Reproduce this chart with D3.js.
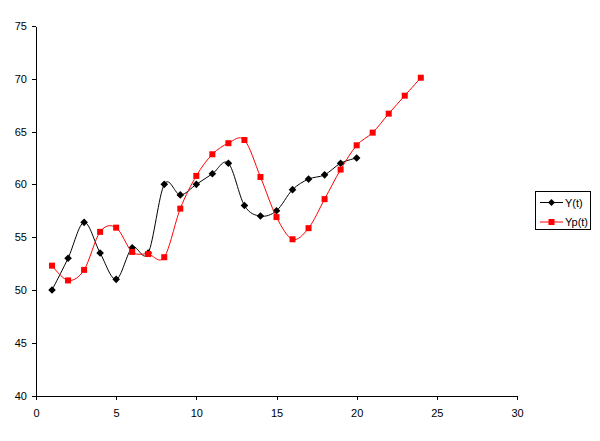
<!DOCTYPE html>
<html lang="en">
  <head>
    <meta charset="UTF-8" />
    <style>
      body { margin: 0; background: #fff; }
      svg { font: 11px "Liberation Sans", Arial, sans-serif; }
      .axis path, .axis line { fill: none; stroke: #000; shape-rendering: crispEdges; }
    </style>
    <script src="https://d3js.org/d3.v7.min.js"></script>
  </head>
  <body>
    <script>
      // series values
      var tY = [1, 2, 3, 4, 5, 6, 7, 8, 9, 10, 11, 12, 13, 14, 15, 16, 17, 18, 19, 20];
      var Y = [50, 53, 56.4, 53.5, 51, 54, 53.5, 60, 59, 60, 61, 62, 58, 57, 57.5, 59.5, 60.5, 60.9, 62, 62.5];
      var tYp = [1, 2, 3, 4, 5, 6, 7, 8, 9, 10, 11, 12, 13, 14, 15, 16, 17, 18, 19, 20, 21, 22, 23, 24];
      var Yp = [52.3, 50.9, 51.9, 55.5, 55.9, 53.6, 53.4, 53.1, 57.7, 60.8, 62.85, 63.9, 64.2, 60.7, 56.9, 54.8, 55.85, 58.6, 61.4, 63.7, 64.9, 66.7, 68.4, 70.1];
      var xTicks = [0, 5, 10, 15, 20, 25, 30];
      var yTicks = [40, 45, 50, 55, 60, 65, 70, 75];
      var seriesNames = ["Y(t)", "Yp(t)"];

      var width = 600, height = 441;
      var svg = d3.select("body").append("svg")
        .attr("width", width).attr("height", height);

      var x = d3.scaleLinear().domain([0, 30]).range([36, 517]);
      var y = d3.scaleLinear().domain([40, 75]).range([395.5, 26]);

      svg.append("g")
        .attr("class", "axis")
        .attr("transform", "translate(0," + y(40) + ")")
        .call(d3.axisBottom(x).tickValues(xTicks).tickSize(4).tickPadding(10).tickSizeOuter(0))
        .selectAll("text").attr("fill", "#000").style("font-size", "11px");

      svg.append("g")
        .attr("class", "axis")
        .attr("transform", "translate(" + x(0) + ",0)")
        .call(d3.axisLeft(y).tickValues(yTicks).tickSize(4).tickPadding(5).tickSizeOuter(0))
        .selectAll("text").attr("fill", "#000").style("font-size", "11px");

      var line = d3.line()
        .x(function (d) { return x(d[0]); })
        .y(function (d) { return y(d[1]); })
        .curve(d3.curveCatmullRom.alpha(0));

      var dY = tY.map(function (t, i) { return [t, Y[i]]; });
      var dYp = tYp.map(function (t, i) { return [t, Yp[i]]; });

      function diamond(cx, cy, r) {
        return "M" + cx + "," + (cy - r) + "L" + (cx + r) + "," + cy +
          "L" + cx + "," + (cy + r) + "L" + (cx - r) + "," + cy + "Z";
      }

      // Y(t) black
      svg.append("path").datum(dY)
        .attr("d", line).attr("fill", "none").attr("stroke", "#000").attr("stroke-width", 1);
      svg.selectAll(".mY").data(dY).enter().append("path")
        .attr("d", function (d) { return diamond(x(d[0]), y(d[1]), 3.8); })
        .attr("fill", "#000");

      // Yp(t) red
      svg.append("path").datum(dYp)
        .attr("d", line).attr("fill", "none").attr("stroke", "#ff0000").attr("stroke-width", 1);
      svg.selectAll(".mYp").data(dYp).enter().append("rect")
        .attr("x", function (d) { return x(d[0]) - 3; })
        .attr("y", function (d) { return y(d[1]) - 3; })
        .attr("width", 6).attr("height", 6)
        .attr("fill", "#ff0000");

      // legend
      var lg = svg.append("g");
      lg.append("rect").attr("x", 535.5).attr("y", 191.5).attr("width", 55).attr("height", 38)
        .attr("fill", "#fff").attr("stroke", "#000");
      var colors = ["#000", "#ff0000"];
      seriesNames.forEach(function (name, i) {
        var ly = 202.5 + i * 19.5;
        lg.append("line").attr("x1", 540).attr("x2", 563).attr("y1", ly).attr("y2", ly)
          .attr("stroke", colors[i]);
        if (i === 0) {
          lg.append("path").attr("d", diamond(551.5, ly, 3.5)).attr("fill", "#000");
        } else {
          lg.append("rect").attr("x", 548.5).attr("y", ly - 3).attr("width", 6).attr("height", 6)
            .attr("fill", "#ff0000");
        }
        lg.append("text").attr("x", 565).attr("y", ly + 4).attr("fill", "#000").text(name);
      });
    </script>
  </body>
</html>
